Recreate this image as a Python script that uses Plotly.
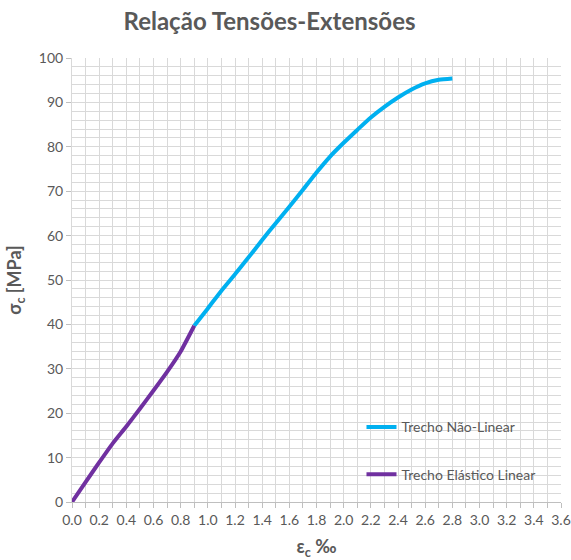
import plotly.graph_objects as go

# Elastic linear branch
eps_elastic = [0.0, 0.1, 0.2, 0.3, 0.4, 0.5, 0.6, 0.7, 0.8, 0.9]
sig_elastic = [0.0, 4.5, 8.9, 13.2, 17.0, 21.0, 25.1, 29.3, 33.9, 39.7]

# Non-linear branch
eps_nonlin = [0.9, 1.0, 1.1, 1.2, 1.3, 1.4, 1.5, 1.6, 1.7, 1.8, 1.9, 2.0,
              2.1, 2.2, 2.3, 2.4, 2.5, 2.6, 2.7, 2.8]
sig_nonlin = [39.7, 43.6, 47.6, 51.3, 55.1, 59.0, 62.8, 66.5, 70.3, 74.2, 77.8, 80.9,
              83.8, 86.6, 89.0, 91.1, 92.9, 94.3, 95.1, 95.4]

x_ticks = [round(0.2 * i, 1) for i in range(19)]
x_tick_labels = [f"{v:.1f}" for v in x_ticks]
y_ticks = list(range(0, 101, 10))

GRAY_TXT = "#595959"
GRID = "#D9D9D9"
FONT = "Lato"

fig = go.Figure()
fig.add_trace(go.Scatter(
    x=eps_nonlin, y=sig_nonlin, mode="lines", name="Trecho Não-Linear",
    line=dict(color="#00B0F0", width=4, shape="spline", smoothing=0.6),
    legendgroup="a",
))
fig.add_trace(go.Scatter(
    x=eps_elastic, y=sig_elastic, mode="lines", name="Trecho Elástico Linear",
    line=dict(color="#7030A0", width=4, shape="spline", smoothing=0.4),
    legendgroup="b",
))

# white legend panel covering the grid
fig.add_shape(type="rect", xref="x domain", yref="y domain",
              x0=0.573, x1=0.994, y0=0.009, y1=0.223,
              fillcolor="white", line=dict(width=0), layer="below")

fig.update_layout(
    width=571, height=560,
    margin=dict(l=72, r=10, t=58, b=58, autoexpand=False),
    paper_bgcolor="white", plot_bgcolor="white",
    font=dict(family=FONT, color=GRAY_TXT, size=14),
    title=dict(text="<b>Relação Tensões-Extensões</b>", x=0.472, xanchor="center",
               y=0.962, yanchor="middle",
               font=dict(family=FONT, size=24, color=GRAY_TXT)),
    showlegend=True,
    legend=dict(x=0.592, y=0.204, xanchor="left", yanchor="top",
                bgcolor="rgba(0,0,0,0)", borderwidth=0,
                tracegroupgap=26, traceorder="grouped",
                font=dict(family=FONT, size=14, color=GRAY_TXT)),
    xaxis=dict(
        range=[0, 3.6], tickvals=x_ticks, ticktext=x_tick_labels,
        automargin=False,
        showgrid=True, gridcolor=GRID, gridwidth=1,
        minor=dict(dtick=0.1, showgrid=True, gridcolor=GRID, gridwidth=1,
                   ticks="outside", ticklen=5, tickcolor="#BFBFBF"),
        ticks="outside", ticklen=5, tickcolor="#BFBFBF",
        showline=True, linecolor="#BFBFBF", linewidth=1,
        zeroline=False,
        tickfont=dict(family=FONT, size=14, color=GRAY_TXT),
        title=dict(text="<b>ε<sub>c</sub> ‰</b>", standoff=15,
                   font=dict(family=FONT, size=18, color=GRAY_TXT)),
    ),
    yaxis=dict(
        range=[0, 100], tickvals=y_ticks,
        automargin=False,
        showgrid=True, gridcolor=GRID, gridwidth=1,
        minor=dict(dtick=2, showgrid=True, gridcolor=GRID, gridwidth=1),
        ticks="outside", ticklen=5, tickcolor="#BFBFBF",
        showline=True, linecolor="#D9D9D9", linewidth=1,
        zeroline=False,
        tickfont=dict(family=FONT, size=14, color=GRAY_TXT),
        title=dict(text="<b>σ<sub>c</sub> [MPa]</b>", standoff=12,
                   font=dict(family=FONT, size=18, color=GRAY_TXT)),
    ),
)

fig.write_html("out.html",
               config={"displayModeBar": False},
               post_script="document.body.style.margin='0';document.body.style.overflow='hidden';")
